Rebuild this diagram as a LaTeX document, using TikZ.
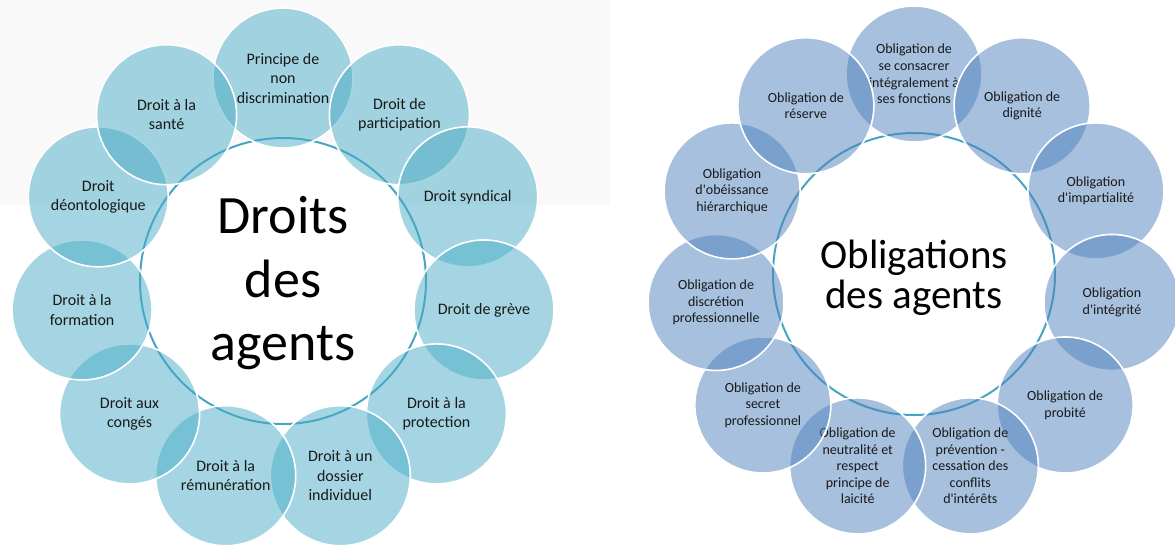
\documentclass[tikz,border=0pt]{standalone}
\usepackage{fontspec}
\setmainfont{Carlito}
\definecolor{lfill}{RGB}{75,172,198}
\definecolor{rfill}{RGB}{79,129,189}
\definecolor{ringc}{RGB}{70,165,195}
\definecolor{bggrey}{RGB}{249,249,249}
\definecolor{txt}{RGB}{25,25,25}
\tikzset{
  bubble/.style={circle, inner sep=0pt, fill opacity=0.5, text opacity=1,
    draw=white, line width=1.6pt, align=center, text=txt},
  lbubble/.style={bubble, fill=lfill, minimum size=140pt,
    font=\fontsize{16}{19.5}\selectfont},
  rbubble/.style={bubble, fill=rfill, minimum size=136pt,
    font=\fontsize{14}{16.6}\selectfont},
  ring/.style={circle, inner sep=0pt, fill=white, draw=ringc, line width=2pt},
  ltitle/.style={anchor=base, text=black, font=\fontsize{54}{63}\selectfont},
  rtitle/.style={anchor=base, text=black, font=\fontsize{41}{48}\selectfont}
}
\begin{document}
\begin{tikzpicture}[x=1pt,y=-1pt]
\useasboundingbox (0,0) rectangle (1175,547);
\fill[bggrey] (0,0) rectangle (610,205);
\begin{scope}
\clip (0,0) rectangle (1175,547);
% ---------- left: Droits des agents ----------
\node[ring, minimum size=286pt] (lring) at (283,281) {};
\node[lbubble] (l1) at ({283+203*cos(90)},{281-203*sin(90)}) {Principe de\\non\\discrimination};
\node[lbubble] (l2) at ({283+203*cos(55)},{281-203*sin(55)}) {Droit de\\participation};
\node[lbubble] (l3) at ({283+203*cos(24.5)},{281-203*sin(24.5)}) {Droit syndical};
\node[lbubble] (l4) at ({283+203*cos(351.8)},{281-203*sin(351.8)}) {Droit de grève};
\node[lbubble] (l5) at ({283+203*cos(319.1)},{281-203*sin(319.1)}) {Droit à la\\protection};
\node[lbubble] (l6) at ({283+203*cos(286.4)},{281-203*sin(286.4)}) {Droit à un\\dossier\\individuel};
\node[lbubble] (l7) at ({283+203*cos(253.6)},{281-203*sin(253.6)}) {Droit à la\\rémunération};
\node[lbubble] (l8) at ({283+203*cos(220.9)},{281-203*sin(220.9)}) {Droit aux\\congés};
\node[lbubble] (l9) at ({283+203*cos(188.2)},{281-203*sin(188.2)}) {Droit à la\\formation};
\node[lbubble] (l10) at ({283+203*cos(155.5)},{281-203*sin(155.5)}) {Droit\\déontologique};
\node[lbubble] (l11) at ({283+203*cos(125)},{281-203*sin(125)}) {Droit à la\\santé};
\node[ltitle] (lt1) at (283,233) {Droits};
\node[ltitle] (lt2) at (283,297) {des};
\node[ltitle] (lt3) at (283,360) {agents};
% ---------- right: Obligations des agents ----------
\node[ring, minimum size=282pt] (rring) at (914,274) {};
\node[rbubble] (r1) at ({914+200*cos(90)},{274-200*sin(90)}) {Obligation de\\se consacrer\\intégralement à\\ses fonctions};
\node[rbubble] (r2) at ({914+200*cos(57.27)},{274-200*sin(57.27)}) {Obligation de\\dignité};
\node[rbubble] (r3) at ({914+200*cos(24.55)},{274-200*sin(24.55)}) {Obligation\\d\textquotesingle impartialité};
\node[rbubble] (r4) at ({914+200*cos(351.82)},{274-200*sin(351.82)}) {Obligation\\d\textquotesingle intégrité};
\node[rbubble] (r5) at ({914+200*cos(319.09)},{274-200*sin(319.09)}) {Obligation de\\probité};
\node[rbubble] (r6) at ({914+200*cos(286.36)},{274-200*sin(286.36)}) {Obligation de\\prévention -\\cessation des\\conflits\\d\textquotesingle intérêts};
\node[rbubble] (r7) at ({914+200*cos(253.64)},{274-200*sin(253.64)}) {Obligation de\\neutralité et\\respect\\principe de\\laicité};
\node[rbubble] (r8) at ({914+200*cos(220.91)},{274-200*sin(220.91)}) {Obligation de\\secret\\professionnel};
\node[rbubble] (r9) at ({914+200*cos(188.18)},{274-200*sin(188.18)}) {Obligation de\\discrétion\\professionnelle};
\node[rbubble] (r10) at ({914+200*cos(155.45)},{274-200*sin(155.45)}) {Obligation\\d\textquotesingle obéissance\\hiérarchique};
\node[rbubble] (r11) at ({914+200*cos(122.73)},{274-200*sin(122.73)}) {Obligation de\\réserve};
\node[rtitle] (rt1) at (914,268) {Obligations};
\node[rtitle] (rt2) at (914,308) {des agents};
\end{scope}
\end{tikzpicture}
\end{document}
